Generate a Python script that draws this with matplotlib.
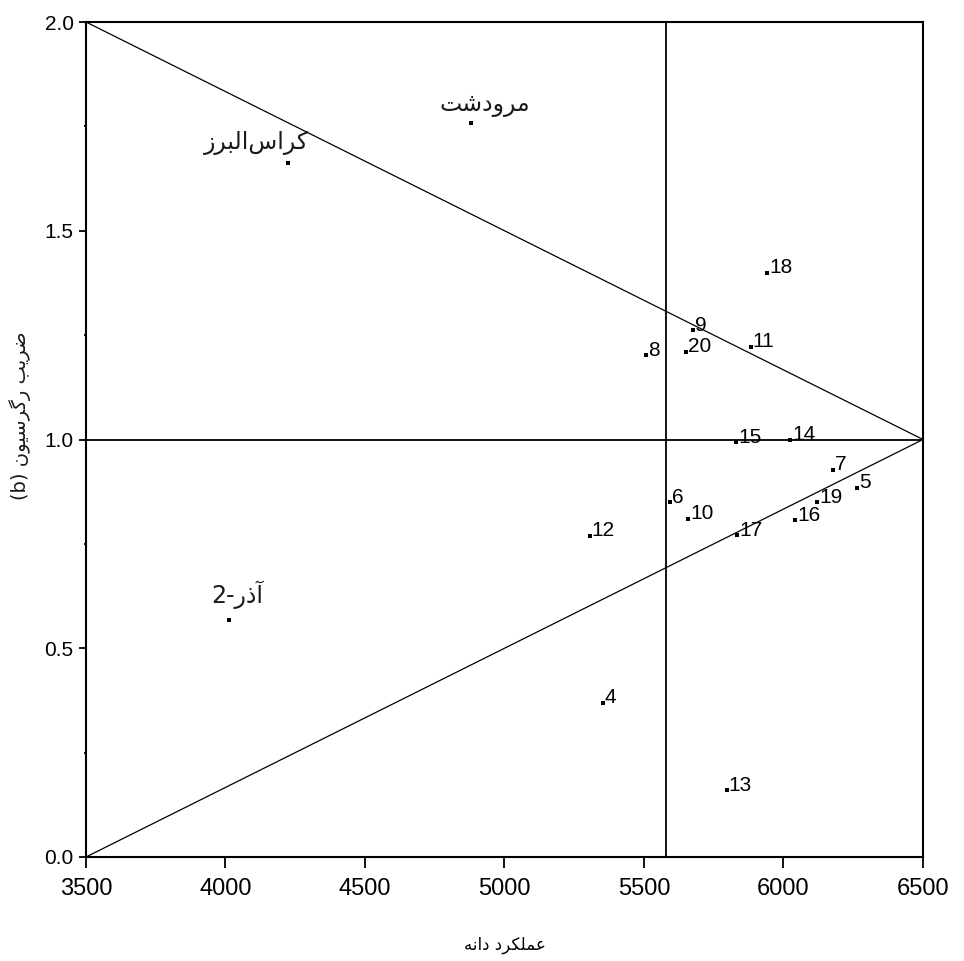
import re
import matplotlib
matplotlib.use('Agg')
import matplotlib.pyplot as plt
from matplotlib.ticker import MultipleLocator

plt.rcParams['font.family'] = ['Liberation Sans', 'DejaVu Sans']

# genotypes: named checks + numbered lines
genotypes = ['مرودشت', 'کراس\u200cالبرز', 'آذر-2', '4', '5', '6', '7', '8', '9', '10',
             '11', '12', '13', '14', '15', '16', '17', '18', '19', '20']
grain_yield = [4880, 4224, 4013, 5353, 6263, 5593, 6177, 5507, 5676, 5658,
               5883, 5306, 5797, 6023, 5830, 6041, 5833, 5941, 6120, 5651]
reg_coef = [1.758, 1.662, 0.568, 0.369, 0.884, 0.850, 0.927, 1.202, 1.262, 0.810,
            1.222, 0.769, 0.160, 1.000, 0.994, 0.807, 0.771, 1.399, 0.850, 1.210]

mean_yield = 5580
b_ref = 1.0
x_min, x_max = 3500, 6500
b_max = 2.0

x_label = 'عملکرد دانه'
y_label = 'ضریب رگرسیون (b)'

# label placement for the named genotypes (pixels, relative to the point)
name_offsets = {'مرودشت': (14, 18), 'کراس\u200cالبرز': (-31, 20), 'آذر-2': (8, 25)}

# --- minimal arabic shaping (matplotlib has no complex text layout) ---
# isolated, final[, initial, medial]
FORMS = {
    'ا': 'ﺍﺎ', 'آ': 'ﺁﺂ', 'د': 'ﺩﺪ', 'ذ': 'ﺫﺬ', 'ر': 'ﺭﺮ', 'ز': 'ﺯﺰ', 'و': 'ﻭﻮ',
    'ب': 'ﺏﺐﺑﺒ', 'ت': 'ﺕﺖﺗﺘ', 'س': 'ﺱﺲﺳﺴ', 'ش': 'ﺵﺶﺷﺸ', 'ض': 'ﺽﺾﺿﻀ',
    'ع': 'ﻉﻊﻋﻌ', 'ل': 'ﻝﻞﻟﻠ', 'م': 'ﻡﻢﻣﻤ', 'ن': 'ﻥﻦﻧﻨ', 'ه': 'ﻩﻪﻫﻬ',
    'ک': '\ufb8e\ufb8f\ufb90\ufb91', 'گ': '\ufb92\ufb93\ufb94\ufb95',
    'ی': '\ufbfc\ufbfd\ufbfe\ufbff',
}
MIRROR = {'(': ')', ')': '('}


def rtl(text):
    chars = list(text)
    shaped = []
    for i, c in enumerate(chars):
        if c == '\u200c':
            continue
        if c not in FORMS:
            shaped.append(c)
            continue
        prev = chars[i - 1] if i > 0 else None
        nxt = chars[i + 1] if i + 1 < len(chars) else None
        join_prev = prev in FORMS and len(FORMS[prev]) == 4
        join_next = nxt in FORMS and len(FORMS[c]) == 4
        f = FORMS[c]
        if join_prev and join_next:
            shaped.append(f[3])
        elif join_prev:
            shaped.append(f[1])
        elif join_next:
            shaped.append(f[2])
        else:
            shaped.append(f[0])
    tokens = re.findall(r'[A-Za-z0-9]+|.', ''.join(shaped), re.S)
    return ''.join(MIRROR.get(t, t) for t in reversed(tokens))


fig = plt.figure(figsize=(9.64, 9.61), dpi=100)
ax = fig.add_axes([86 / 964, 1 - 857 / 961, (923 - 86) / 964, (857 - 22) / 961])

ax.plot([x_min, x_max], [b_max, b_ref], color='black', lw=0.9)
ax.plot([x_min, x_max], [0, b_ref], color='black', lw=0.9)
ax.axhline(b_ref, color='black', lw=1.3)
ax.axvline(mean_yield, color='black', lw=1.3)
ax.scatter(grain_yield, reg_coef, marker='s', s=5, c='black', lw=0, zorder=3)

for name, x, y in zip(genotypes, grain_yield, reg_coef):
    if name in name_offsets:
        ax.annotate(rtl(name), (x, y), xytext=name_offsets[name], textcoords='offset pixels',
                    ha='center', va='center', fontsize=17, family='DejaVu Sans', color='#1a1a1a')
    else:
        ax.annotate(name, (x, y), xytext=(2, 5), textcoords='offset pixels',
                    ha='left', va='center', fontsize=15)

ax.set_xlim(x_min, x_max)
ax.set_ylim(0, b_max)
ax.xaxis.set_major_locator(MultipleLocator(500))
ax.yaxis.set_major_locator(MultipleLocator(0.5))
ax.yaxis.set_minor_locator(MultipleLocator(0.25))
ax.yaxis.set_major_formatter(plt.FormatStrFormatter('%.1f'))
ax.tick_params(axis='x', length=8, width=1.3, pad=7, labelsize=17, direction='out')
ax.tick_params(axis='y', which='major', length=5, width=1.3, pad=4, labelsize=15, direction='out')
ax.tick_params(axis='y', which='minor', length=1.5, width=1.3, direction='out')
for s in ax.spines.values():
    s.set_linewidth(1.5)

fig.text(505 / 964, 1 - 945 / 961, rtl(x_label), ha='center', va='center',
         fontsize=12, family='DejaVu Sans')
fig.text(20 / 964, 1 - 416 / 961, rtl(y_label), ha='center', va='center', rotation=90,
         fontsize=14, family='DejaVu Sans', color='#1a1a1a')

fig.savefig('out.png', dpi=100)
